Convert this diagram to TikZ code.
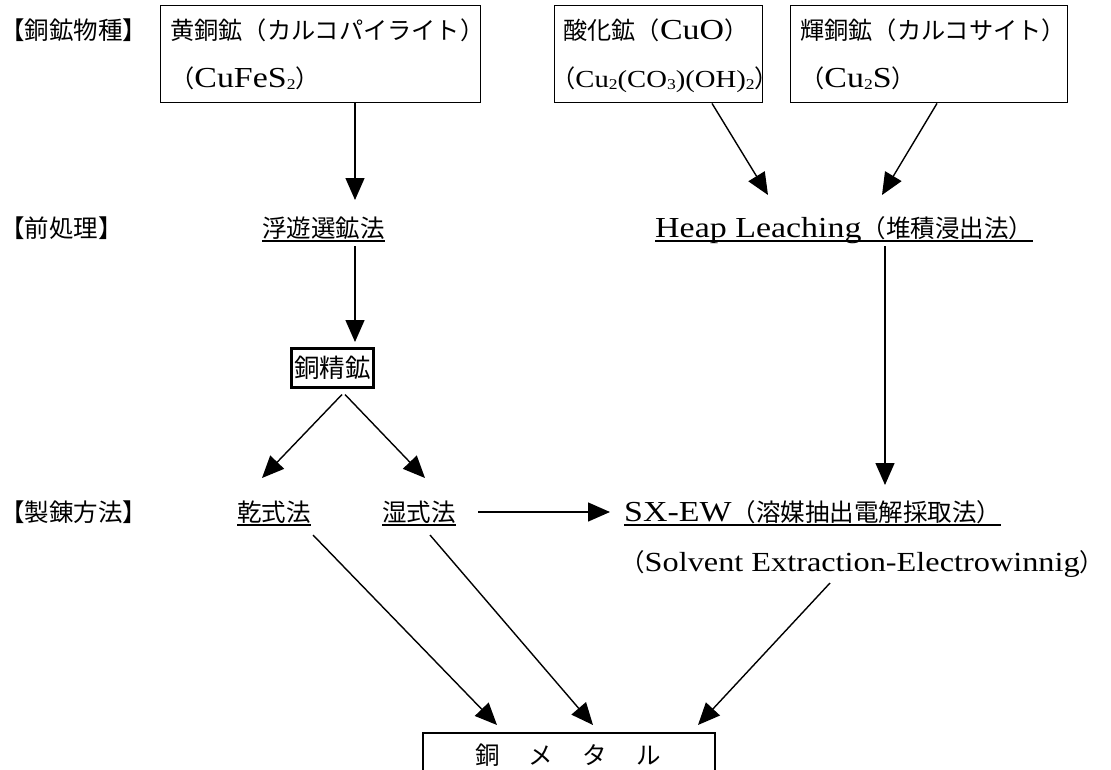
\documentclass[tikz,border=0pt]{standalone}
\usepackage{fontspec}
\setmainfont{Liberation Serif}[FakeStretch=1.17]
\newfontfamily\cjk{Noto Sans CJK JP}
\usetikzlibrary{arrows.meta,calc}
\newcommand\J[1]{{\cjk\fontsize{24.5}{28}\selectfont #1}}
\newcommand\Js[1]{{\cjk\fontsize{24.2}{28}\selectfont #1}}
\newcommand\sbs[1]{\raisebox{-2pt}{\fontsize{15}{15}\selectfont #1}}
\begin{document}
\begin{tikzpicture}[x=1pt,y=-1pt, font=\fontsize{29}{32}\selectfont,
  txt/.style={inner sep=0pt, anchor=base west},
  box/.style={draw, line width=1.4pt, anchor=north west, inner sep=0pt},
  arr/.style={line width=1.4pt, -{Triangle[length=22pt,width=19pt]}},
  ul/.style={line width=1.6pt}]
\useasboundingbox (0,0) rectangle (1111,769);
% row 1
\node[txt] (h1) at (0,39) {\J{【銅鉱物種】}};
\node[box, minimum width=320pt, minimum height=97pt] (b1) at (160,5) {};
\node[txt] (t1a) at (170,39) {\Js{黄銅鉱（カルコパイライト）}};
\node[txt] (t1b) at (170,87) {\Js{（}CuFeS\sbs{2}\Js{）}};
\node[box, minimum width=208pt, minimum height=97pt] (b2) at (554,5) {};
\node[txt] (t2a) at (563,39) {\Js{酸化鉱（}CuO\Js{）}};
\node[txt, font=\fontsize{24.5}{30}\selectfont] (t2b) at (551,87) {\Js{（}Cu\sbs{2}(CO\sbs{3})(OH)\sbs{2}\Js{）}};
\node[box, minimum width=277pt, minimum height=97pt] (b3) at (790,5) {};
\node[txt] (t3a) at (800,39) {\Js{輝銅鉱（カルコサイト）}};
\node[txt] (t3b) at (800,87) {\Js{（}Cu\sbs{2}S\Js{）}};
% row 2
\node[txt] (h2) at (0,237) {\J{【前処理】}};
\node[txt] (fu) at (262,237) {\J{浮遊選鉱法}};
\node[txt] (hl) at (655,237) {Heap Leaching\J{（堆積浸出法）}};
% row 3
\node[draw, line width=2.5pt, anchor=north west, minimum width=82pt, minimum height=39pt, inner sep=0pt] (ck) at (290,347) {{\cjk\fontsize{25.5}{28}\selectfont 銅精鉱}};
% row 4
\node[txt] (h3) at (0,521) {\J{【製錬方法】}};
\node[txt] (kn) at (237,521) {\J{乾式法}};
\node[txt] (sh) at (382,521) {\J{湿式法}};
\node[txt] (sx) at (624,521) {SX-EW\J{（溶媒抽出電解採取法）}};
\node[txt, font=\fontsize{27.6}{32}\selectfont] (sv) at (620,571) {\J{（}Solvent Extraction-Electrowinnig\J{）}};
% bottom
\node[draw, line width=2pt, anchor=north west, minimum width=292pt, minimum height=60pt, inner sep=0pt] (cm) at (422,732) {};
\node[inner sep=0pt, anchor=base] (cmt) at (568,764) {\J{銅\hspace{29pt}メ\hspace{29pt}タ\hspace{29pt}ル}};
% underlines
\foreach \n in {fu,hl,kn,sh,sx}
  \draw[ul] ([yshift=-4pt]\n.base west) -- ([yshift=-4pt]\n.base east);
% arrows
\draw[arr] ([xshift=195pt]b1.south west) -- ([xshift=93pt,yshift=37pt]fu.base west);
\draw[arr] ([xshift=158pt]b2.south west) -- ([xshift=113pt,yshift=42pt]hl.base west);
\draw[arr] ([xshift=147pt]b3.south west) -- ([xshift=227pt,yshift=42pt]hl.base west);
\draw[arr] ([xshift=93pt,yshift=-9pt]fu.base west) -- ([xshift=65pt,yshift=5pt]ck.north west);
\draw[arr] ([xshift=230pt,yshift=-9pt]hl.base west) -- ([xshift=261pt,yshift=36pt]sx.base west);
\draw[arr] ([xshift=52pt,yshift=-6pt]ck.south west) -- ([xshift=25pt,yshift=43pt]kn.base west);
\draw[arr] ([xshift=55pt,yshift=-6pt]ck.south west) -- ([xshift=43pt,yshift=43pt]sh.base west);
\draw[arr] ([xshift=96pt,yshift=9pt]sh.base west) -- ([xshift=-14pt,yshift=9pt]sx.base west);
\draw[arr] ([xshift=76pt,yshift=-14pt]kn.base west) -- ([xshift=75pt,yshift=7pt]cm.north west);
\draw[arr] ([xshift=48pt,yshift=-14pt]sh.base west) -- ([xshift=171pt,yshift=7pt]cm.north west);
\draw[arr] ([xshift=210pt,yshift=-12pt]sv.base west) -- ([xshift=276pt,yshift=7pt]cm.north west);
\end{tikzpicture}
\end{document}
